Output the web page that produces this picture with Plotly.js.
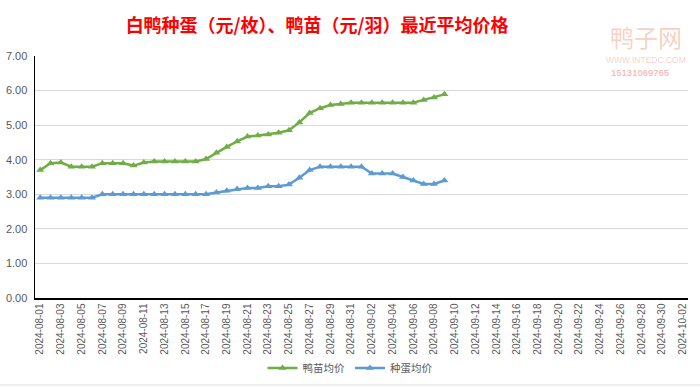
<!DOCTYPE html>
<html>
<head>
<meta charset="utf-8">
<script src="https://cdn.plot.ly/plotly-3.0.1.min.js"></script>
<style>
html,body{margin:0;padding:0;background:#fff;}
#chart{width:700px;height:387px;}
</style>
</head>
<body>
<div id="chart"></div>
<script>
// Dates with data (2024-08-01 .. 2024-09-09)
const dates = [
  '2024-08-01','2024-08-02','2024-08-03','2024-08-04','2024-08-05','2024-08-06','2024-08-07','2024-08-08',
  '2024-08-09','2024-08-10','2024-08-11','2024-08-12','2024-08-13','2024-08-14','2024-08-15','2024-08-16',
  '2024-08-17','2024-08-18','2024-08-19','2024-08-20','2024-08-21','2024-08-22','2024-08-23','2024-08-24',
  '2024-08-25','2024-08-26','2024-08-27','2024-08-28','2024-08-29','2024-08-30','2024-08-31','2024-09-01',
  '2024-09-02','2024-09-03','2024-09-04','2024-09-05','2024-09-06','2024-09-07','2024-09-08','2024-09-09'
];
// 鸭苗均价 (元/羽)
const duckling = [
  3.70,3.90,3.92,3.80,3.80,3.80,3.90,3.90,
  3.90,3.83,3.92,3.95,3.95,3.95,3.95,3.95,
  4.02,4.20,4.37,4.53,4.67,4.70,4.73,4.78,
  4.85,5.08,5.35,5.49,5.58,5.61,5.65,5.65,
  5.65,5.65,5.65,5.65,5.65,5.73,5.80,5.89
];
// 种蛋均价 (元/枚)
const eggs = [
  2.90,2.90,2.90,2.90,2.90,2.90,3.00,3.00,
  3.00,3.00,3.00,3.00,3.00,3.00,3.00,3.00,
  3.00,3.05,3.10,3.15,3.18,3.18,3.23,3.23,
  3.28,3.48,3.70,3.80,3.80,3.80,3.80,3.80,
  3.60,3.60,3.60,3.50,3.40,3.30,3.30,3.40
];
const seriesNames = ['鸭苗均价','种蛋均价'];
const titleText = '白鸭种蛋（元/枚）、鸭苗（元/羽）最近平均价格';

const fontFam = 'Liberation Sans, Arial, Noto Sans CJK SC, sans-serif';
const cjkFam = 'Noto Sans CJK SC, sans-serif';

// pixel -> paper helpers for overlay text (plot area: x 35..688, y 56..298)
const px = v => (v - 35) / 653;
const py = v => (298 - v) / 242;

const traces = [
  {
    x: dates, y: duckling, name: seriesNames[0], type: 'scatter', mode: 'lines+markers',
    line: {color: '#70AD47', width: 2.5},
    marker: {symbol: 'triangle-up', size: 7, color: '#70AD47'}
  },
  {
    x: dates, y: eggs, name: seriesNames[1], type: 'scatter', mode: 'lines+markers',
    line: {color: '#5B9BD5', width: 2.5},
    marker: {symbol: 'triangle-up', size: 7, color: '#5B9BD5'}
  }
];

const layout = {
  width: 700, height: 387,
  margin: {l: 35, r: 12, t: 56, b: 89},
  paper_bgcolor: '#fff', plot_bgcolor: '#fff',
  font: {family: fontFam, color: '#595959'},
  title: {
    text: '<b>' + titleText + '</b>',
    font: {family: cjkFam, size: 18, color: '#FF0000'},
    x: 0.453, xref: 'container', xanchor: 'center',
    y: 1 - 26/387, yref: 'container', yanchor: 'middle'
  },
  showlegend: true,
  legend: {
    orientation: 'h', xref: 'container', yref: 'container',
    x: 0.5, xanchor: 'center', y: 1 - 368/387, yanchor: 'middle',
    font: {family: cjkFam, size: 10.5, color: '#595959'},
    itemwidth: 30, tracegroupgap: 0
  },
  xaxis: {
    type: 'date',
    range: ['2024-07-31 12:00', '2024-10-02 12:00'],
    tick0: '2024-08-01', dtick: 2 * 86400000,
    tickformat: '%Y-%m-%d', tickangle: -90,
    tickfont: {family: fontFam, size: 10, color: '#595959'},
    showgrid: false, zeroline: false,
    showline: true, linecolor: '#000', linewidth: 1.5,
    ticks: '', fixedrange: true
  },
  yaxis: {
    range: [0, 7], dtick: 1, tick0: 0, tickformat: '.2f',
    tickfont: {family: fontFam, size: 11, color: '#595959'},
    ticklabelstandoff: 4,
    showgrid: true, gridcolor: '#D9D9D9', gridwidth: 1,
    zeroline: false, showline: true, linecolor: '#000', linewidth: 1.5,
    ticks: '', fixedrange: true
  },
  annotations: [
    {text: '鸭子网', xref: 'paper', yref: 'paper', x: px(646), y: py(37), xanchor: 'center', yanchor: 'middle',
     showarrow: false, font: {family: cjkFam, size: 24, color: 'rgba(240,150,120,0.45)'}},
    {text: 'WWW.INTEDC.COM', xref: 'paper', yref: 'paper', x: px(646), y: py(60), xanchor: 'center', yanchor: 'middle',
     showarrow: false, font: {family: fontFam, size: 8.5, color: 'rgba(240,150,140,0.45)'}},
    {text: '<b>15131069765</b>', xref: 'paper', yref: 'paper', x: px(640), y: py(72.5), xanchor: 'center', yanchor: 'middle',
     showarrow: false, font: {family: fontFam, size: 9.5, color: 'rgba(240,130,130,0.5)'}}
  ],
  shapes: [
    {type: 'line', xref: 'paper', yref: 'paper', x0: px(0), x1: px(700), y0: py(385), y1: py(385),
     line: {color: '#E0E0E0', width: 1}}
  ]
};

Plotly.newPlot('chart', traces, layout, {displayModeBar: false, staticPlot: true});
</script>
</body>
</html>
